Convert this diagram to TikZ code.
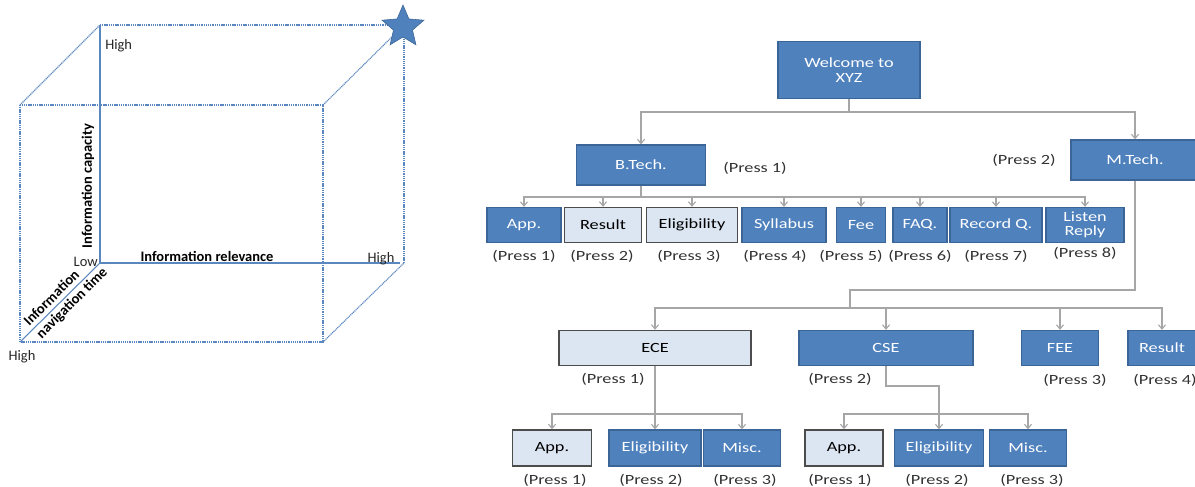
\documentclass[tikz,border=0pt]{standalone}
\usepackage{fontspec}
\setmainfont{Carlito}
\newfontfamily\treefont[FakeStretch=1.3]{Carlito}
\usetikzlibrary{shapes.geometric,arrows.meta}
\definecolor{boxblue}{HTML}{4F81BD}
\definecolor{boxedge}{HTML}{3B6596}
\definecolor{boxpale}{HTML}{DCE6F2}
\definecolor{cubeblue}{HTML}{5B87C0}
\definecolor{linkgray}{HTML}{A6A6A6}

\begin{document}
\begin{tikzpicture}[
		x=0.025cm, y=-0.025cm,
		darkbox/.style={draw=boxedge, line width=0.9pt, fill=boxblue, text=white, inner sep=1pt, align=center, font=\treefont\fontsize{10}{11}\selectfont},
		palebox/.style={draw=black!70, line width=1pt, fill=boxpale, text=black, inner sep=1pt, align=center, font=\treefont\fontsize{10}{11}\selectfont},
		presslbl/.style={text=black!80, inner sep=0pt, font=\treefont\fontsize{10}{12}\selectfont},
		link/.style={draw=linkgray, line width=0.8pt},
		arr/.style={link, -{Straight Barb[length=3pt,width=5pt]}},
		edge/.style={draw=cubeblue, line width=0.8pt, dash pattern=on 0.8pt off 0.5pt},
		axis/.style={draw=cubeblue, line width=0.75pt},
		cubelbl/.style={text=black!85, inner sep=0pt, font=\fontsize{10.3}{12}\selectfont},
		cubebold/.style={text=black, inner sep=0pt, font=\bfseries\fontsize{10.3}{12.5}\selectfont},
	]
	\def\px{0.025cm}
	\clip (0,0) rectangle (1195,486);

	\coordinate (fnw) at (20,105);
	\coordinate (fne) at (323,105);
	\coordinate (fse) at (323,342);
	\coordinate (fsw) at (20,342);
	\coordinate (bnw) at (100,25);
	\coordinate (bne) at (404,25);
	\coordinate (bse) at (404,263);
	\coordinate (bsw) at (100,263);

	\draw[edge] (fnw) rectangle (fse);
	\draw[edge] (bnw) -- (bne) -- (bse);
	\draw[edge] (fnw) -- (bnw);
	\draw[edge] (fne) -- (bne);
	\draw[edge] (fse) -- (bse);
	\draw[axis] (bnw) -- (bsw) -- (400,263);
	\draw[axis] (bsw) -- (fsw);
	\node[star, star points=5, star point ratio=2.2, fill=boxblue, draw=boxedge, minimum size=44*\px, inner sep=0pt] (goal) at (403,27) {};

	\node[cubelbl, anchor=west] (hightop) at (105,46) {High};
	\node[cubelbl, anchor=east] (low) at (98,262) {Low};
	\node[cubebold] (relev) at (207,256) {Information relevance};
	\node[cubelbl] (highright) at (381,259) {High};
	\node[cubebold, rotate=90] (capac) at (88,186) {Information capacity};
	\node[cubebold, rotate=45, align=left] (navig) at (66,297) {Information\\navigation time};
	\node[cubelbl] (highbottom) at (22,357) {High};

	\node[darkbox, minimum width=142*\px, minimum height=57*\px] (welcome) at (849,70) {Welcome to\\XYZ};
	\node[darkbox, minimum width=129*\px, minimum height=40*\px] (btech) at (641,165) {B.Tech.};
	\node[darkbox, minimum width=128*\px, minimum height=40*\px] (mtech) at (1135,160) {M.Tech.};
	\node[presslbl] (pbtech) at (755,168) {(Press 1)};
	\node[presslbl] (pmtech) at (1024,160) {(Press 2)};

	\node[darkbox, minimum width=74*\px, minimum height=35*\px] (bapp) at (524,225) {App.};
	\node[palebox, minimum width=77*\px, minimum height=35*\px] (bres) at (603,225) {Result};
	\node[palebox, minimum width=91*\px, minimum height=35*\px] (belig) at (692,225) {Eligibility};
	\node[darkbox, minimum width=84*\px, minimum height=35*\px] (bsyl) at (784,225) {Syllabus};
	\node[darkbox, minimum width=49*\px, minimum height=35*\px] (bfee) at (861,225) {Fee};
	\node[darkbox, minimum width=54*\px, minimum height=35*\px] (bfaq) at (920,225) {FAQ.};
	\node[darkbox, minimum width=92*\px, minimum height=35*\px] (brec) at (996,225) {Record Q.};
	\node[darkbox, minimum width=78*\px, minimum height=35*\px, font=\treefont\fontsize{10}{10}\selectfont] (blis) at (1085,225) {Listen\\Reply};
	\node[presslbl] (pbapp) at (524,256) {(Press 1)};
	\node[presslbl] (pbres) at (602,256) {(Press 2)};
	\node[presslbl] (pbelig) at (689,256) {(Press 3)};
	\node[presslbl] (pbsyl) at (775,256) {(Press 4)};
	\node[presslbl] (pbfee) at (851,256) {(Press 5)};
	\node[presslbl] (pbfaq) at (920,256) {(Press 6)};
	\node[presslbl] (pbrec) at (996,256) {(Press 7)};
	\node[presslbl] (pblis) at (1085,253) {(Press 8)};

	\node[palebox, minimum width=192*\px, minimum height=35*\px] (ece) at (655,348) {ECE};
	\node[darkbox, minimum width=174*\px, minimum height=35*\px] (cse) at (886,348) {CSE};
	\node[darkbox, minimum width=77*\px, minimum height=35*\px] (fee) at (1060,348) {FEE};
	\node[darkbox, minimum width=68*\px, minimum height=35*\px] (mres) at (1162,348) {Result};
	\node[presslbl] (pece) at (613,379) {(Press 1)};
	\node[presslbl] (pcse) at (840,379) {(Press 2)};
	\node[presslbl] (pfee) at (1075,380) {(Press 3)};
	\node[presslbl] (pmres) at (1165,380) {(Press 4)};

	\node[palebox, minimum width=79*\px, minimum height=36*\px] (eapp) at (552,448) {App.};
	\node[darkbox, minimum width=92*\px, minimum height=36*\px] (eelig) at (655,448) {Eligibility};
	\node[darkbox, minimum width=77*\px, minimum height=36*\px] (emisc) at (742,448) {Misc.};
	\node[palebox, minimum width=78*\px, minimum height=36*\px] (capp) at (844,448) {App.};
	\node[darkbox, minimum width=89*\px, minimum height=36*\px] (celig) at (939,448) {Eligibility};
	\node[darkbox, minimum width=77*\px, minimum height=36*\px] (cmisc) at (1028,448) {Misc.};
	\node[presslbl] (peapp) at (555,480) {(Press 1)};
	\node[presslbl] (peelig) at (651,480) {(Press 2)};
	\node[presslbl] (pemisc) at (745,480) {(Press 3)};
	\node[presslbl] (pcapp) at (840,480) {(Press 1)};
	\node[presslbl] (pcelig) at (937,480) {(Press 2)};
	\node[presslbl] (pcmisc) at (1032,480) {(Press 3)};

	\coordinate (wbus) at (849,112);
	\draw[link] (welcome.south) -- (wbus);
	\draw[arr] (wbus) -| (btech.north);
	\draw[arr] (wbus) -| (mtech.north);

	\coordinate (bbus) at (641,197);
	\draw[link] (btech.south) -- (bbus);
	\foreach \n in {bapp,bres,belig,bsyl,bfee,bfaq,brec,blis}
		\draw[arr] (bbus) -| (\n.north);

	\coordinate (mjog) at (850,290);
	\coordinate (mbus) at (850,308);
	\draw[link] (mtech.south) |- (mjog) -- (mbus);
	\foreach \n in {ece,cse,fee,mres}
		\draw[arr] (mbus) -| (\n.north);

	\coordinate (ebus) at (655,414);
	\draw[link] (ece.south) -- (ebus);
	\foreach \n in {eapp,eelig,emisc}
		\draw[arr] (ebus) -| (\n.north);

	\coordinate (cjog) at (939,386);
	\coordinate (cbus) at (939,414);
	\draw[link] (cse.south) |- (cjog) -- (cbus);
	\foreach \n in {capp,celig,cmisc}
		\draw[arr] (cbus) -| (\n.north);
\end{tikzpicture}
\end{document}
